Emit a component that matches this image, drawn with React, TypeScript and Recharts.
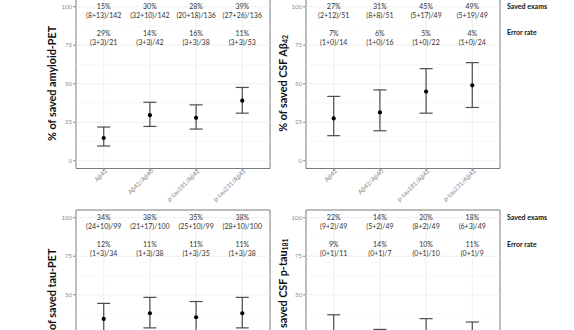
import {
  ScatterChart, Scatter, XAxis, YAxis, ErrorBar, ReferenceLine, ReferenceArea
} from "recharts";

const markers = ["Aβ42", "Aβ42/Aβ40", "p-tau181/Aβ42", "p-tau231/Aβ42"];
const categoryX = [1, 2, 3, 4];
const majorY = [0, 25, 50, 75, 100];
const minorY = [12.5, 37.5, 62.5, 87.5];
const visibleBottomTicks = [50, 75, 100];
const savedRowY = 97.5;
const errorRowY = 80.2;

// amyloid-PET
const amyPct = [14.8, 29.6, 27.9, 39.0];
const amyLow = [9.6, 22.3, 20.6, 30.9];
const amyHigh = [21.9, 38.0, 36.3, 47.6];
const amySaved = ["15%", "30%", "28%", "39%"];
const amySavedFrac = ["(8+13)/142", "(32+10)/142", "(20+18)/136", "(27+26)/136"];
const amyError = ["29%", "14%", "16%", "11%"];
const amyErrorFrac = ["(3+3)/21", "(3+3)/42", "(3+3)/38", "(3+3)/53"];

// CSF Aβ42
const csfPct = [27.5, 31.4, 44.9, 49.0];
const csfLow = [16.3, 19.5, 30.9, 34.6];
const csfHigh = [41.8, 46.0, 59.8, 63.7];
const csfSaved = ["27%", "31%", "45%", "49%"];
const csfSavedFrac = ["(2+12)/51", "(8+8)/51", "(5+17)/49", "(5+19)/49"];
const csfError = ["7%", "6%", "5%", "4%"];
const csfErrorFrac = ["(1+0)/14", "(1+0)/16", "(1+0)/22", "(1+0)/24"];

// tau-PET
const tauPct = [34.3, 38.0, 35.4, 38.0];
const tauLow = [25.1, 28.5, 26.1, 28.5];
const tauHigh = [44.4, 48.3, 45.6, 48.3];
const tauSaved = ["34%", "38%", "35%", "38%"];
const tauSavedFrac = ["(24+10)/99", "(21+17)/100", "(25+10)/99", "(28+10)/100"];
const tauError = ["12%", "11%", "11%", "11%"];
const tauErrorFrac = ["(1+3)/34", "(1+3)/38", "(1+3)/35", "(1+3)/38"];

// CSF p-tau181
const ptauPct = [22.4, 14.3, 20.4, 18.4];
const ptauLow = [11.8, 5.9, 10.2, 8.8];
const ptauHigh = [37.0, 27.5, 34.5, 32.3];
const ptauSaved = ["22%", "14%", "20%", "18%"];
const ptauSavedFrac = ["(9+2)/49", "(5+2)/49", "(8+2)/49", "(6+3)/49"];
const ptauError = ["9%", "14%", "10%", "11%"];
const ptauErrorFrac = ["(0+1)/11", "(0+1)/7", "(0+1)/10", "(0+1)/9"];

const FONT = "Lato, 'Open Sans', sans-serif";
const PLOT_W = 194;
const PLOT_H = 169.5;
const YW = 30;
const XH = 50;
const M = { top: 20, right: 10, bottom: 10, left: 10 };
const LEFT_X = 75.5;
const RIGHT_X = 306;
const TOP_Y = -1.4;
const BOTTOM_Y = 210.3;

const yPx = (top: number, v: number) => top + ((105 - v) * PLOT_H) / 110;

const Annot = (props: any) => {
  const { cx, cy, payload } = props;
  return (
    <g>
      <text x={cx} y={cy - 4.4} textAnchor="middle" dominantBaseline="central" fontSize={7} fill="#333" fontFamily={FONT}>{payload.l1}</text>
      <text x={cx} y={cy + 4.4} textAnchor="middle" dominantBaseline="central" fontSize={7} fill="#333" fontFamily={FONT}>{payload.l2}</text>
    </g>
  );
};

const Dot = (props: any) => <circle cx={props.cx} cy={props.cy} r={2.1} fill="#000" />;

const XTick = (props: any) => {
  const { x, y, payload } = props;
  const ax = x + 4;
  const ay = y - 2;
  return (
    <text x={ax} y={ay} transform={`rotate(-45, ${ax}, ${ay})`} textAnchor="end" fontSize={6.3} fill="#8a8a8a" fontFamily={FONT}>
      {markers[payload.value - 1]}
    </text>
  );
};

type PanelProps = {
  left: number; top: number;
  pct: number[]; low: number[]; high: number[];
  saved: string[]; savedFrac: string[]; err: string[]; errFrac: string[];
  yTicks: number[]; showX: boolean;
};

const Panel = ({ left, top, pct, low, high, saved, savedFrac, err, errFrac, yTicks, showX }: PanelProps) => {
  const points = pct.map((p, i) => ({ x: categoryX[i], y: p, ci: [p - low[i], high[i] - p] }));
  const savedRows = saved.map((s, i) => ({ x: categoryX[i], y: savedRowY, l1: s, l2: savedFrac[i] }));
  const errRows = err.map((s, i) => ({ x: categoryX[i], y: errorRowY, l1: s, l2: errFrac[i] }));
  return (
    <div style={{ position: "absolute", left: left - M.left - YW, top: top - M.top }}>
      <ScatterChart
        width={M.left + YW + PLOT_W + M.right}
        height={M.top + PLOT_H + XH + M.bottom}
        margin={M}
      >
        <XAxis type="number" dataKey="x" domain={[0.4, 4.6]} ticks={categoryX} allowDataOverflow
          height={XH} tickSize={3} tickMargin={2} axisLine={false}
          tickLine={{ stroke: "#8a8a8a" }} tick={showX ? <XTick /> : false} interval={0} />
        <YAxis type="number" dataKey="y" domain={[-5, 105]} ticks={yTicks} allowDataOverflow
          width={YW} tickSize={3} tickMargin={1} axisLine={false}
          tickLine={{ stroke: "#8a8a8a" }} tick={{ fontSize: 6, fill: "#8a8a8a", fontFamily: FONT }} interval={0} />
        {minorY.map((v) => <ReferenceLine key={"mi" + v} y={v} stroke="#f4f4f4" strokeWidth={0.6} />)}
        {majorY.map((v) => <ReferenceLine key={"ma" + v} y={v} stroke="#ebebeb" strokeWidth={0.8} />)}
        {categoryX.map((v) => <ReferenceLine key={"vx" + v} x={v} stroke="#ebebeb" strokeWidth={0.8} />)}
        <ReferenceArea x1={0.4} x2={4.6} y1={-5} y2={105} fill="none" stroke="#7a7a7a" strokeWidth={1} />
        <Scatter data={savedRows} shape={<Annot />} isAnimationActive={false} />
        <Scatter data={errRows} shape={<Annot />} isAnimationActive={false} />
        <Scatter data={points} shape={<Dot />} isAnimationActive={false}>
          <ErrorBar dataKey="ci" direction="y" width={6.5} stroke="#4d4d4d" strokeWidth={1.2} />
        </Scatter>
      </ScatterChart>
    </div>
  );
};

const YTitle = ({ x, top, main, sub }: { x: number; top: number; main: string; sub?: string }) => {
  const cy = top + PLOT_H / 2;
  return (
    <text x={x} y={cy} transform={`rotate(-90, ${x}, ${cy})`} textAnchor="middle" dominantBaseline="central"
      fontSize={10.8} fontWeight="bold" fill="#111" fontFamily={FONT}>
      {main}
      {sub ? <tspan fontSize={7} dy={2.5}>{sub}</tspan> : null}
    </text>
  );
};

const SideLabels = ({ top }: { top: number }) => (
  <g fontFamily={FONT} fontSize={7} fontWeight="bold" fill="#111">
    <text x={507} y={yPx(top, savedRowY) - 4.4} dominantBaseline="central">Saved exams</text>
    <text x={507} y={yPx(top, errorRowY) - 4.4} dominantBaseline="central">Error rate</text>
  </g>
);

export default function App() {
  return (
    <div style={{ position: "absolute", left: 0, top: 0, width: 574, height: 330, overflow: "hidden", background: "#fff" }}>
      <Panel left={LEFT_X} top={TOP_Y} pct={amyPct} low={amyLow} high={amyHigh}
        saved={amySaved} savedFrac={amySavedFrac} err={amyError} errFrac={amyErrorFrac}
        yTicks={majorY} showX />
      <Panel left={RIGHT_X} top={TOP_Y} pct={csfPct} low={csfLow} high={csfHigh}
        saved={csfSaved} savedFrac={csfSavedFrac} err={csfError} errFrac={csfErrorFrac}
        yTicks={majorY} showX />
      <Panel left={LEFT_X} top={BOTTOM_Y} pct={tauPct} low={tauLow} high={tauHigh}
        saved={tauSaved} savedFrac={tauSavedFrac} err={tauError} errFrac={tauErrorFrac}
        yTicks={visibleBottomTicks} showX={false} />
      <Panel left={RIGHT_X} top={BOTTOM_Y} pct={ptauPct} low={ptauLow} high={ptauHigh}
        saved={ptauSaved} savedFrac={ptauSavedFrac} err={ptauError} errFrac={ptauErrorFrac}
        yTicks={visibleBottomTicks} showX={false} />
      <svg width={574} height={330} style={{ position: "absolute", left: 0, top: 0, pointerEvents: "none" }}>
        <YTitle x={52} top={TOP_Y} main="% of saved amyloid-PET" />
        <YTitle x={283} top={TOP_Y} main="% of saved CSF Aβ" sub="42" />
        <YTitle x={52} top={BOTTOM_Y} main="% of saved tau-PET" />
        <YTitle x={283} top={BOTTOM_Y} main="% of saved CSF p-tau" sub="181" />
        <SideLabels top={TOP_Y} />
        <SideLabels top={BOTTOM_Y} />
      </svg>
    </div>
  );
}
